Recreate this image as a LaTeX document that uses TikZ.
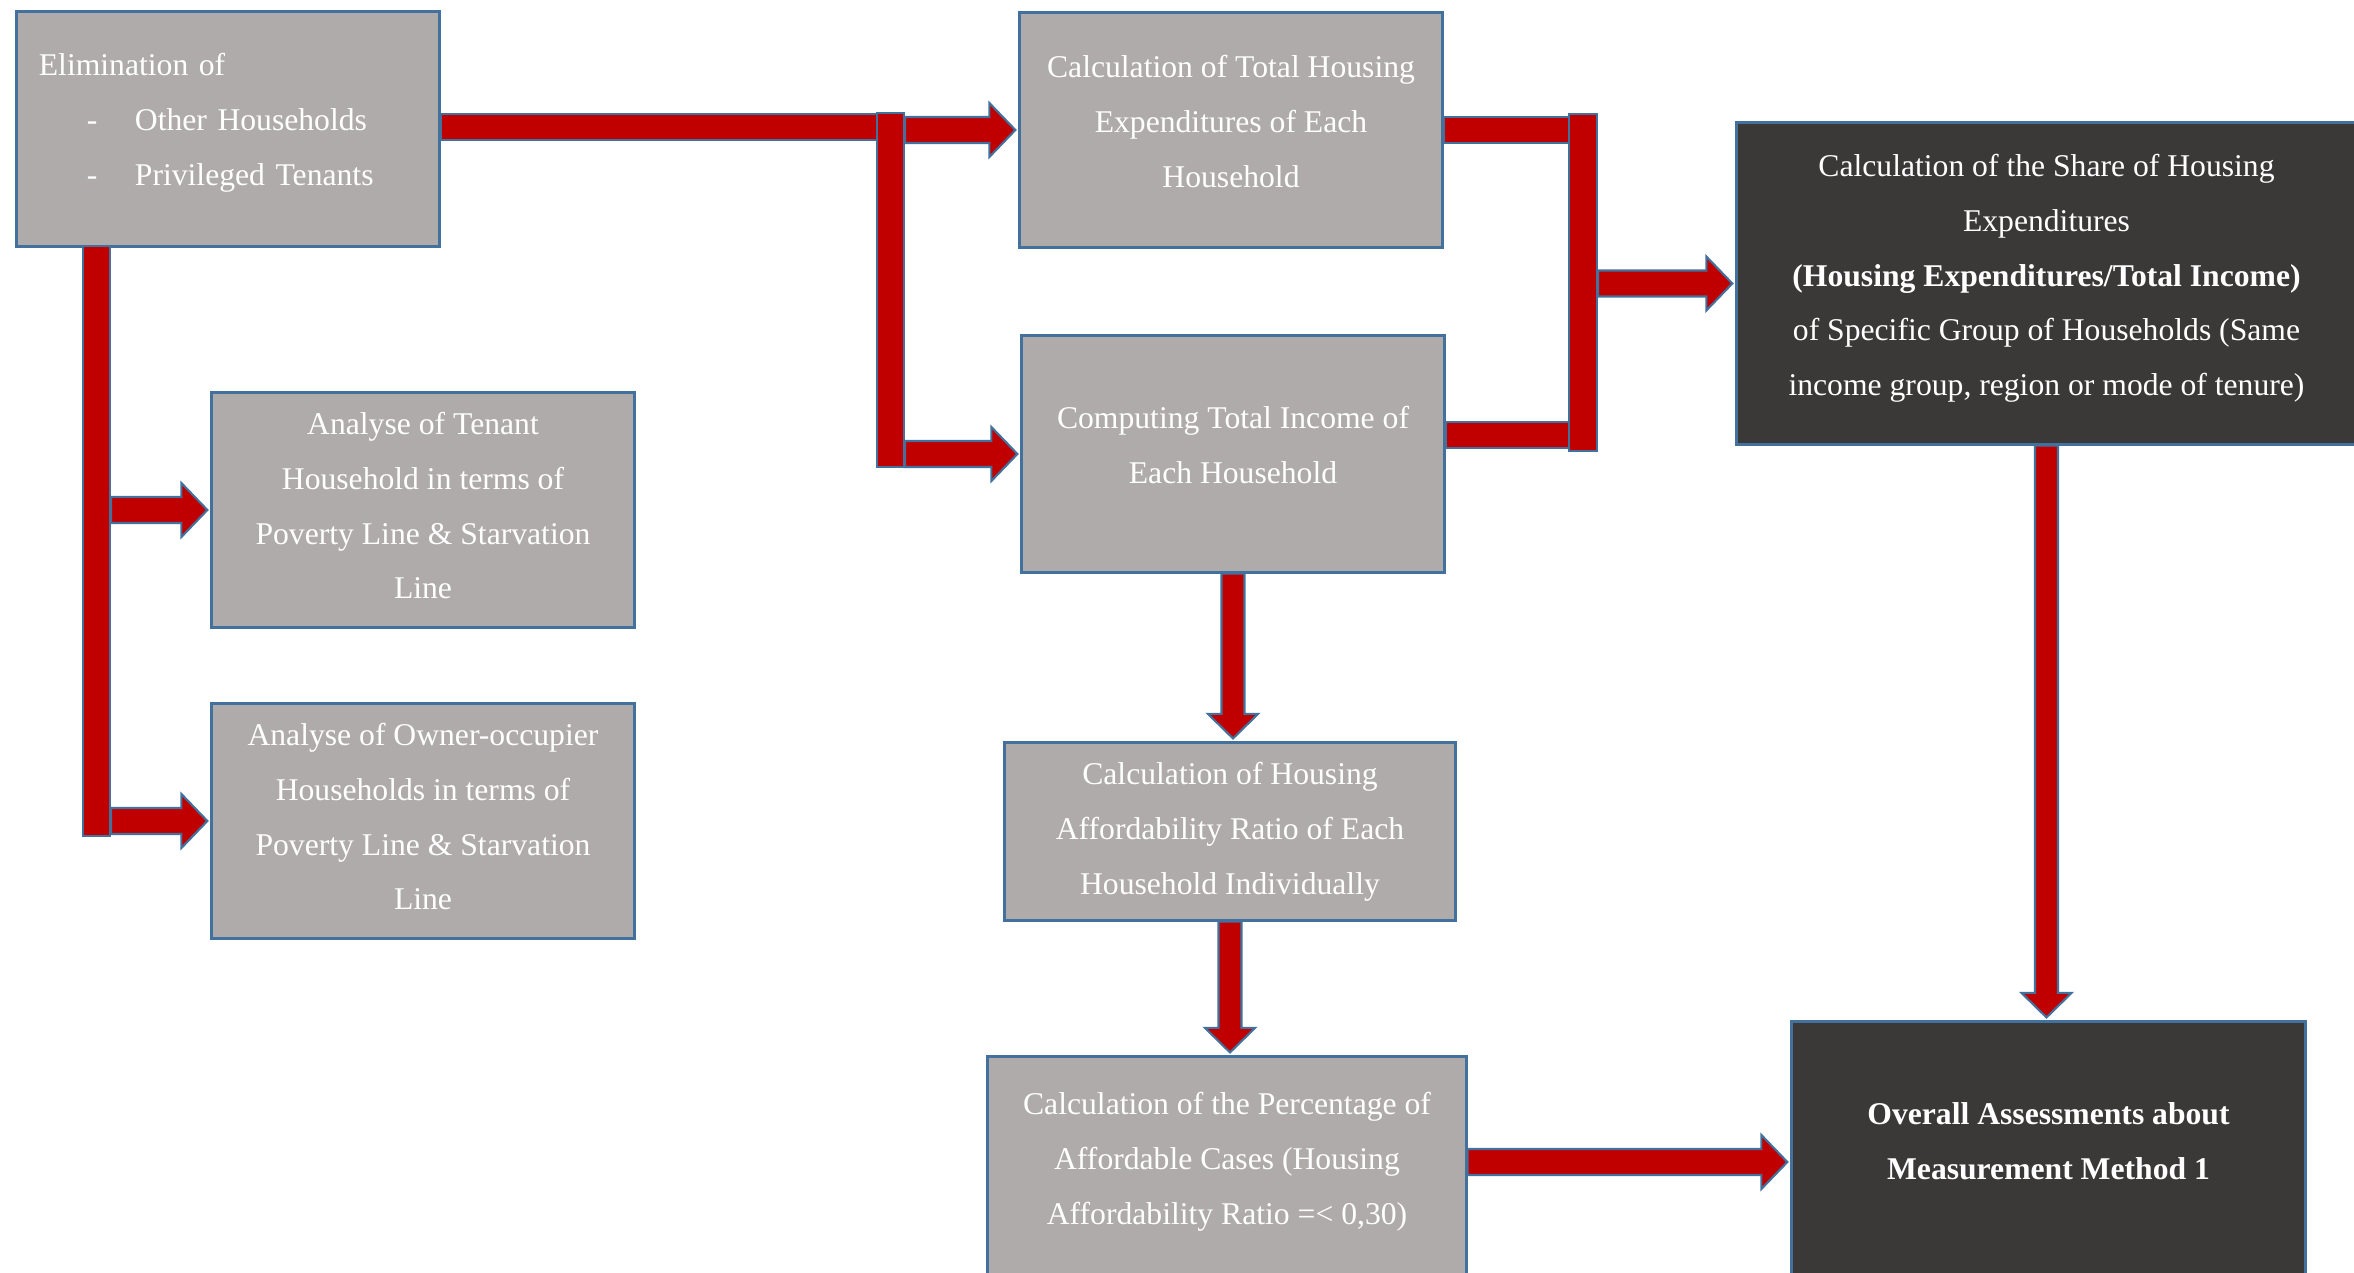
\documentclass[tikz,border=0pt]{standalone}
\usepackage{fontspec}
\setmainfont{Liberation Serif}
\usetikzlibrary{calc,backgrounds}

\definecolor{boxgray}{HTML}{AFABAB}
\definecolor{boxdark}{HTML}{3B3838}
\definecolor{edgeblue}{HTML}{41719C}
\definecolor{arrowred}{HTML}{C00000}

% sizes of the block arrows
\newcommand{\shw}{0.13cm}
\newcommand{\hdw}{0.27cm}
\newcommand{\hdl}{0.26cm}
\newcommand{\vshw}{0.115cm}
\newcommand{\vhdw}{0.25cm}
\newcommand{\vhdl}{0.245cm}
\newcommand{\tipgap}{0.03cm}
% depth strut for the last line of a box
\newcommand{\dstrut}[1]{\rule[-#1]{0pt}{#1}}

\tikzset{
  flowbox/.style={draw=edgeblue, line width=0.85pt, fill=boxgray, text=white,
    align=center, inner sep=0pt, font=\fontsize{9}{15.6}\selectfont},
  darkbox/.style={flowbox, fill=boxdark},
  connbar/.style={draw=edgeblue, line width=0.6pt, fill=arrowred,
    inner sep=0pt, minimum width=0.27cm},
  blockarrow/.style={draw=edgeblue, line width=0.6pt, fill=arrowred},
}

% block arrow to the right, tip at the x of #2
\newcommand{\blockright}[2]{%
  \path[blockarrow] let \p1=#1, \p2=#2 in
    (\x1,{\y1+\shw}) -- ({\x2-\hdl-\tipgap},{\y1+\shw}) -- ({\x2-\hdl-\tipgap},{\y1+\hdw})
    -- ({\x2-\tipgap},\y1) -- ({\x2-\hdl-\tipgap},{\y1-\hdw})
    -- ({\x2-\hdl-\tipgap},{\y1-\shw}) -- (\x1,{\y1-\shw}) -- cycle;}
% block arrow downwards, tip at the y of #2
\newcommand{\blockdown}[2]{%
  \path[blockarrow] let \p1=#1, \p2=#2 in
    ({\x1-\vshw},\y1) -- ({\x1-\vshw},{\y2+\vhdl+\tipgap}) -- ({\x1-\vhdw},{\y2+\vhdl+\tipgap})
    -- (\x1,{\y2+\tipgap}) -- ({\x1+\vhdw},{\y2+\vhdl+\tipgap})
    -- ({\x1+\vshw},{\y2+\vhdl+\tipgap}) -- ({\x1+\vshw},\y1) -- cycle;}
% plain shaft without head
\newcommand{\shaftright}[2]{%
  \path[blockarrow] let \p1=#1, \p2=#2 in
    (\x1,{\y1+\shw}) rectangle (\x2,{\y1-\shw});}

\begin{document}
\begin{tikzpicture}[x=0.01cm,y=-0.01cm]
    \useasboundingbox (0,0) rectangle (2354,1273);

    % boxes
    \node (elim) [flowbox, minimum width=4.22cm, minimum height=2.34cm, align=left, text width=3.78cm]
        at (228,129) {Elimination of\\
        \hspace*{0.48cm}\makebox[0.48cm][l]{-}Other Households\\
        \hspace*{0.48cm}\makebox[0.48cm][l]{-}Privileged Tenants\dstrut{5.6pt}};
    \node (tot) [flowbox, minimum width=4.22cm, minimum height=2.34cm] at (1231,130)
        {Calculation of Total Housing\\Expenditures of Each\\Household\dstrut{5pt}};
    \node (inc) [flowbox, minimum width=4.22cm, minimum height=2.36cm] at (1233,454)
        {Computing Total Income of\\Each Household\dstrut{5pt}};
    \node (share) [darkbox, minimum width=6.19cm, minimum height=3.21cm] at (2046.5,283.5)
        {Calculation of the Share of Housing\\Expenditures\\\textbf{(Housing Expenditures/Total Income)}\\of Specific Group of Households (Same\\income group, region or mode of tenure)\dstrut{4.9pt}};
    \node (tenant) [flowbox, minimum width=4.22cm, minimum height=2.34cm] at (423,510)
        {Analyse of Tenant\\Household in terms of\\Poverty Line \& Starvation\\Line\dstrut{2.6pt}};
    \node (owner) [flowbox, minimum width=4.22cm, minimum height=2.34cm] at (423,821)
        {Analyse of Owner-occupier\\Households in terms of\\Poverty Line \& Starvation\\Line\dstrut{2.6pt}};
    \node (ratio) [flowbox, minimum width=4.50cm, minimum height=1.77cm] at (1230,831.5)
        {Calculation of Housing\\Affordability Ratio of Each\\Household Individually};
    \node (pct) [flowbox, minimum width=4.78cm, minimum height=2.20cm] at (1227,1167)
        {Calculation of the Percentage of\\Affordable Cases (Housing\\Affordability Ratio =< 0,30)\dstrut{4.9pt}};
    \node (overall) [darkbox, minimum width=5.13cm, minimum height=2.56cm,
        font=\fontsize{9}{15.6}\selectfont\bfseries] at (2048.5,1150)
        {Overall Assessments about\\Measurement Method 1\dstrut{5pt}};

    % bars
    \node (lbar) [connbar, minimum height=5.90cm] at (96.5,541) {};
    \node (mbar) [connbar, minimum height=3.54cm] at (890.5,290) {};
    \node (rbar) [connbar, minimum width=0.28cm, minimum height=3.37cm] at (1583,282.5) {};

    \begin{scope}[on background layer]
        \shaftright{($(elim.east)+(0,-2)$)}{(mbar.center)}
        \shaftright{(tot.east)}{(rbar.center)}
        \shaftright{($(inc.east)+(0,-19)$)}{(rbar.center)}
    \end{scope}

    % arrows
    \blockright{(mbar.east |- tot.west)}{(tot.west)}
    \blockright{(mbar.east |- inc.west)}{(inc.west)}
    \blockright{(lbar.east |- tenant.west)}{(tenant.west)}
    \blockright{(lbar.east |- owner.west)}{(owner.west)}
    \blockright{(rbar.east |- share.west)}{(share.west)}
    \blockright{($(pct.east)+(0,-5)$)}{(overall.west)}
    \blockdown{(inc.south)}{(ratio.north)}
    \blockdown{(ratio.south)}{(pct.north)}
    \blockdown{(share.south)}{(overall.north)}
\end{tikzpicture}
\end{document}
